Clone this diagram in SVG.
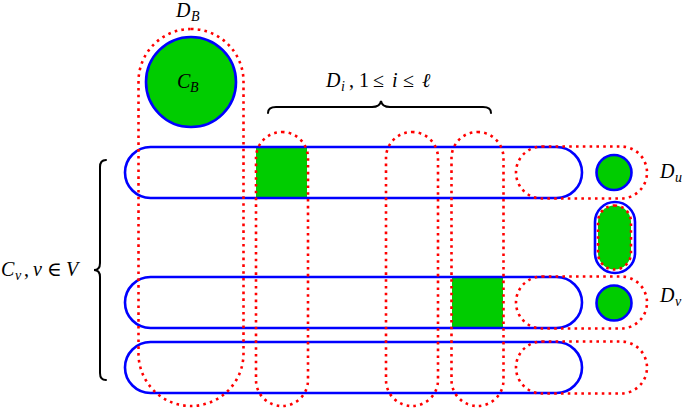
<svg xmlns="http://www.w3.org/2000/svg" width="685" height="408" viewBox="0 0 685 408">
<style>
.blue{fill:none;stroke:#0000ff;stroke-width:2.6}
.red{fill:none;stroke:#ff0000;stroke-width:2.6;stroke-dasharray:2.6 4.2}
.green{fill:#00cc00;stroke:none}
.brace{fill:none;stroke:#000;stroke-width:2;stroke-linecap:round}
.t{font-family:"Liberation Serif","DejaVu Serif",serif;font-style:italic;font-size:20px;fill:#000}
.u{font-style:normal}
.s{font-size:14px}
</style>
<rect width="685" height="408" fill="#fff"/>
<g id="fills">
<rect class="green" x="256" y="147" width="51" height="51"/>
<rect class="green" x="452" y="277" width="51" height="51"/>
</g>
<g id="CB">
<circle cx="191" cy="82" r="45" fill="#00cc00" stroke="#0000ff" stroke-width="2.6"/>
<text class="t" x="177" y="88">C<tspan class="s" x="190" y="92">B</tspan></text>
</g>
<g id="Cv-rows">
<rect id="row1" class="blue" x="125" y="147" width="457" height="51" rx="25.5"/>
<rect id="row2" class="blue" x="125" y="277" width="457" height="51" rx="25.5"/>
<rect id="row3" class="blue" x="125" y="342" width="457" height="51" rx="25.5"/>
</g>
<g id="small">
<circle id="cu" cx="614" cy="172.5" r="17.5" fill="#00cc00" stroke="#0000ff" stroke-width="2.6"/>
<circle id="cv" cx="614" cy="303" r="17.5" fill="#00cc00" stroke="#0000ff" stroke-width="2.6"/>
<g id="edge-uv">
<rect x="595" y="202" width="40" height="71" rx="20" fill="none" stroke="#0000ff" stroke-width="2.6"/>
<rect x="598" y="205.5" width="33" height="64" rx="16.5" fill="#00cc00" stroke="#ff0000" stroke-width="2.6" stroke-dasharray="2.6 4.2"/>
</g>
</g>
<g id="DB">
<rect class="red" x="138.5" y="29" width="105" height="377" rx="52.5"/>
<text class="t" x="176" y="17">D<tspan class="s" x="191" y="21">B</tspan></text>
</g>
<g id="Di">
<rect class="red" x="256" y="132" width="52" height="274" rx="26"/>
<rect class="red" x="386" y="132" width="52" height="274" rx="26"/>
<rect class="red" x="451.5" y="132" width="52" height="274" rx="26"/>
<text class="t" x="326" y="87">D<tspan class="s" x="341" y="91">i</tspan><tspan class="u" x="349" y="87">,</tspan><tspan class="u" x="359">1</tspan><tspan class="u" x="373">≤</tspan><tspan x="392">i</tspan><tspan class="u" x="403">≤</tspan><tspan x="422">ℓ</tspan></text>
</g>
<g id="Du">
<rect class="red" x="516" y="146.5" width="131" height="52" rx="26"/>
<text class="t" x="660" y="178">D<tspan class="s" x="675" y="182">u</tspan></text>
</g>
<g id="Dv">
<rect class="red" x="516" y="276.5" width="131" height="52" rx="26"/>
<text class="t" x="660" y="302">D<tspan class="s" x="675" y="306">v</tspan></text>
</g>
<g id="Dw">
<rect class="red" x="516" y="341.5" width="131" height="52" rx="26"/>
</g>
<g id="connectors">
<path class="brace" d="M268,113 Q268,107 276,107 L372,107 Q380,107 381,101 Q382,107 390,107 L483,107 Q491,107 491,113"/>
<path class="brace" d="M106,160 Q100,160 100,167 L100,263 Q100,270 94,270 Q100,270 100,277 L100,373 Q100,380 106,380"/>
</g>
<text class="t" x="1" y="276">C<tspan class="s" x="15" y="280">v</tspan><tspan class="u" x="24" y="276">,</tspan><tspan x="33">v</tspan><tspan class="u" x="47">∈</tspan><tspan x="66">V</tspan></text>
</svg>
